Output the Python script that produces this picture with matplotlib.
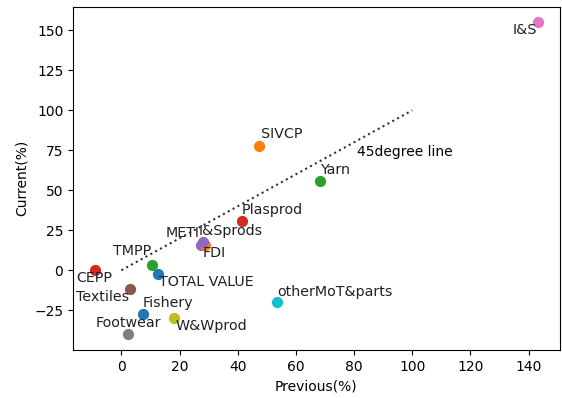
import matplotlib
matplotlib.use("Agg")
import matplotlib.pyplot as plt

# Growth rates per product group, previous vs current period
labels = ["Fishery", "SIVCP", "Yarn", "Plasprod", "METI", "Textiles", "I&S",
          "Footwear", "W&Wprod", "otherMoT&parts", "TOTAL VALUE", "I&Sprods",
          "TMPP", "CEPP", "FDI"]
previous = [7.4, 47.2, 68.2, 41.3, 27.5, 3.0, 143.1,
            2.3, 18.2, 53.6, 12.5, 28.6,
            10.4, -9.0, 28.1]
current = [-27.5, 78.0, 55.6, 30.6, 16.0, -12.0, 155.0,
           -40.0, -30.0, -20.0, -2.5, 15.5,
           3.1, 0.0, 17.5]

# label positions (data coords), nudged like the original layout
label_x = [7.4, 47.9, 68.2, 41.3, 15.2, -15.7, 134.6,
           -8.9, 18.6, 53.7, 12.9, 26.5,
           -2.8, -15.4, 27.8]
label_y = [-20.6, 85.0, 62.5, 37.5, 23.0, -17.0, 150.0,
           -33.0, -35.0, -13.75, -7.5, 24.5,
           12.0, -5.0, 11.0]

line_x = [0, 100]
line_y = [0, 100]

fig = plt.figure(figsize=(5.62, 3.98), dpi=100)
ax = fig.add_axes([0.13, 0.121, 0.866, 0.862])

for px, cy in zip(previous, current):
    ax.scatter(px, cy, s=50)

ax.plot(line_x, line_y, color="#333333", linestyle=":", linewidth=1.5)
ax.text(81.0, 73.7, "45degree line", ha="left", va="center", fontsize=10)

for name, tx, ty in zip(labels, label_x, label_y):
    ax.text(tx, ty, name, ha="left", va="center", fontsize=10.3, color="#222222")

ax.set_xlabel("Previous(%)")
ax.set_ylabel("Current(%)")
ax.set_xticks([0, 20, 40, 60, 80, 100, 120, 140])
ax.set_yticks([-25, 0, 25, 50, 75, 100, 125, 150])

fig.savefig("out.png", dpi=100)
